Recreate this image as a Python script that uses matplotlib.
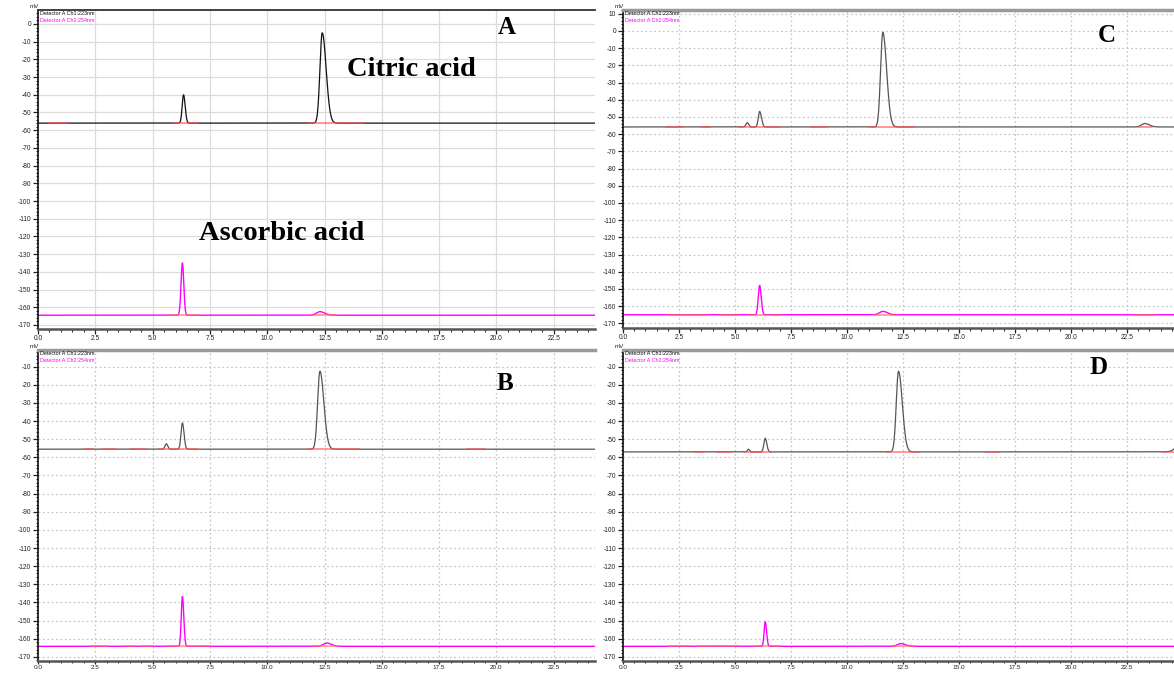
import numpy as np
import matplotlib
matplotlib.use("Agg")
import matplotlib.pyplot as plt
from matplotlib.ticker import MultipleLocator

plt.rcParams['axes.unicode_minus'] = False
plt.rcParams['font.family'] = ['Liberation Sans', 'DejaVu Sans']

W, H = 1174, 674

# ---- data ----
# peaks: (retention time, height above baseline in mV, sigma left, sigma right)
panels = ['A', 'B', 'C', 'D']

base_ch1 = {'A': -56.0, 'B': -55.5, 'C': -55.8, 'D': -57.0}
base_ch2 = {'A': -164.5, 'B': -164.2, 'C': -165.0, 'D': -164.2}

peaks_ch1 = {
    'A': [(6.35, 16.0, 0.06, 0.07), (12.4, 51.0, 0.10, 0.17)],
    'B': [(5.6, 3.0, 0.06, 0.06), (6.3, 14.5, 0.06, 0.07), (12.3, 43.0, 0.10, 0.17)],
    'C': [(5.55, 2.5, 0.06, 0.06), (6.1, 9.0, 0.06, 0.08), (11.6, 55.0, 0.10, 0.17),
          (23.3, 2.0, 0.15, 0.2)],
    'D': [(5.6, 1.5, 0.05, 0.05), (6.35, 7.5, 0.06, 0.07), (12.3, 44.5, 0.10, 0.17),
          (25.0, 6.0, 0.25, 0.25)],
}
peaks_ch2 = {
    'A': [(6.3, 29.5, 0.06, 0.06), (12.3, 2.0, 0.15, 0.2)],
    'B': [(6.3, 27.5, 0.05, 0.06), (12.6, 1.8, 0.15, 0.2)],
    'C': [(6.1, 17.0, 0.06, 0.07), (11.6, 2.0, 0.15, 0.2)],
    'D': [(6.35, 13.5, 0.05, 0.06), (12.4, 1.5, 0.15, 0.2)],
}
# integration marks (start, end) drawn in red on the baseline
marks_ch1 = {
    'A': [(0.5, 1.3), (5.9, 7.0), (11.8, 14.2)],
    'B': [(2.0, 2.4), (2.8, 3.4), (4.0, 4.7), (5.3, 7.0), (11.8, 14.0), (18.7, 19.5)],
    'C': [(1.9, 2.7), (3.5, 3.9), (5.2, 7.0), (8.4, 9.1), (11.0, 13.0), (23.0, 23.6)],
    'D': [(3.2, 3.6), (4.2, 4.8), (5.4, 6.6), (11.8, 13.2), (16.2, 16.8), (24.1, 24.6)],
}
marks_ch2 = {
    'A': [(5.8, 7.0), (12.0, 13.0)],
    'B': [(2.3, 3.0), (3.9, 4.2), (4.5, 5.0), (5.6, 7.5), (12.0, 13.0)],
    'C': [(2.0, 3.8), (4.3, 5.2), (5.6, 6.4), (6.6, 7.0), (11.2, 12.2), (22.8, 23.7)],
    'D': [(2.0, 3.0), (3.3, 4.5), (4.6, 5.2), (5.9, 7.0), (12.0, 13.0)],
}
x_ticks = [0.0, 2.5, 5.0, 7.5, 10.0, 12.5, 15.0, 17.5, 20.0, 22.5]

# ---- layout in pixels: left, top, right, bottom, xmax, ymin, ymax ----
boxes = {
    'A': (38, 10, 595, 329, 24.3, -172.3, 7.9),
    'B': (38, 350, 595, 661, 24.3, -172.3, -0.8),
    'C': (623, 10, 1174, 328, 24.6, -172.7, 12.2),
    'D': (623, 350, 1174, 661, 24.6, -172.3, -0.8),
}
letters = {'A': (507, 28), 'B': (505, 383), 'C': (1107, 36), 'D': (1099, 368)}

t = np.linspace(0, 25.5, 5000)


def trace(base, peaks):
    y = np.full_like(t, base)
    for rt, h, sl, sr in peaks:
        s = np.where(t < rt, sl, sr)
        y += h * np.exp(-0.5 * ((t - rt) / s) ** 2)
    return y


fig = plt.figure(figsize=(W / 100, H / 100), dpi=100)

for p in panels:
    l, tp, r, b, xmax, ymin, ymax = boxes[p]
    ax = fig.add_axes([l / W, 1 - b / H, (r - l) / W, (b - tp) / H])
    ax.set_xlim(0, xmax)
    ax.set_ylim(ymin, ymax)

    if p == 'A':
        ax.grid(True, color='#dcdcdc', lw=0.9, ls='-')
        ax.spines['top'].set_color('#333333')
        ax.spines['top'].set_linewidth(1.3)
        c1 = '#111111'
    else:
        ax.grid(True, color='#c8c8c8', lw=0.9, ls=(0, (1.5, 2)))
        ax.spines['top'].set_color('#9a9a9a')
        ax.spines['top'].set_linewidth(2.5)
        c1 = '#555555'
    ax.set_axisbelow(True)
    ax.spines['right'].set_visible(False)
    ax.spines['left'].set_color('#111111')
    ax.spines['left'].set_linewidth(1.2)
    ax.spines['bottom'].set_color('#555555')
    ax.spines['bottom'].set_linewidth(1.8)

    ax.set_xticks(x_ticks)
    ax.set_xticklabels(['%.1f' % v for v in x_ticks])
    ax.xaxis.set_minor_locator(MultipleLocator(0.5))
    ax.yaxis.set_major_locator(MultipleLocator(10))
    ax.yaxis.set_minor_locator(MultipleLocator(2))
    ax.tick_params(axis='both', which='major', labelsize=4.8, length=3.5, width=0.9,
                   pad=1.5, colors='#222222')
    ax.tick_params(axis='both', which='minor', length=1.8, width=0.7, colors='#222222')
    if p in ('B', 'D'):
        ax.tick_params(axis='x', which='major', length=2.5, pad=0.3, labelsize=4.6)
        ax.tick_params(axis='x', which='minor', length=1.5)
    else:
        ax.tick_params(axis='x', which='major', pad=0.5)

    y1 = trace(base_ch1[p], peaks_ch1[p])
    y2 = trace(base_ch2[p], peaks_ch2[p])
    ax.plot(t, y1, color=c1, lw=0.9)
    ax.plot(t, y2, color='#ff00ff', lw=1.0)
    for s, e in marks_ch1[p]:
        ax.plot([s, e], [base_ch1[p], base_ch1[p]], color='#ff4d4d', lw=1.1, alpha=0.75)
    for s, e in marks_ch2[p]:
        ax.plot([s, e], [base_ch2[p], base_ch2[p]], color='#ff6a4d', lw=1.1, alpha=0.75)

    ax.text(0.004, 0.998, 'Detector A Ch1:223nm', transform=ax.transAxes,
            fontsize=3.9, color='#111111', va='top', ha='left')
    ax.text(0.004, 0.975, 'Detector A Ch2:254nm', transform=ax.transAxes,
            fontsize=3.9, color='#ff00ff', va='top', ha='left')
    fig.text((l - 4) / W, 1 - (tp - 1) / H, 'mV', fontsize=4.5, color='#222222',
             ha='center', va='bottom')

    lx, ly = letters[p]
    fig.text(lx / W, 1 - ly / H, p, fontsize=18, fontweight='bold',
             family='Liberation Serif', ha='center', va='center')

fig.text(411 / W, 1 - 70 / H, 'Citric acid', fontsize=20.5, fontweight='bold',
         family='Liberation Serif', ha='center', va='center')
fig.text(282 / W, 1 - 233 / H, 'Ascorbic acid', fontsize=20.5, fontweight='bold',
         family='Liberation Serif', ha='center', va='center')

fig.savefig('out.png', dpi=100)
